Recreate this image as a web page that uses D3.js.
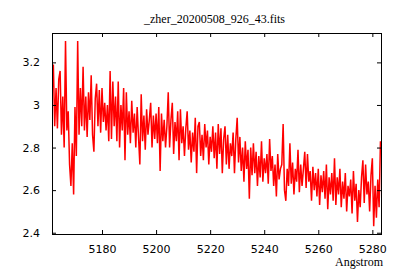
<!DOCTYPE html>
<html>
<head>
<meta charset="utf-8">
<script src="https://cdn.jsdelivr.net/npm/d3@7"></script>
<style>
  body { margin: 0; background: #fff; }
  svg { display: block; }
</style>
</head>
<body>
<div id="chart"></div>
<script>
// spectrum grid (like CRVAL1 / CDELT1 in the fits header)
var lambda0 = 5161.5;
var dLambda = 0.5;

// flux values
var flux = [
  3.05, 3.19, 2.90, 3.08, 2.89, 3.12, 3.16, 2.86, 3.04, 2.80,
  3.30, 2.88, 2.97, 2.72, 2.62, 2.82, 2.58, 2.99, 2.76, 3.30,
  2.86, 3.08, 2.90, 3.18, 2.88, 3.04, 2.85, 3.06, 2.93, 3.14,
  2.86, 2.78, 3.03, 3.10, 2.90, 3.07, 2.87, 3.08, 2.92, 3.01,
  2.88, 3.00, 2.83,
  3.16, 2.84, 3.11, 2.90, 3.04, 2.83, 3.11, 2.80, 3.00, 2.88,
  3.08, 2.74, 3.06, 2.86, 2.97, 2.82, 3.02, 2.87, 2.96, 2.80,
  2.99, 2.85, 2.72, 3.05, 2.83, 2.95, 2.79, 2.98, 2.86, 2.93,
  3.01, 2.80, 2.95, 2.84, 2.96, 2.82, 2.99, 2.69, 2.96, 2.83,
  2.93, 2.80, 2.90,
  3.06, 2.80, 2.93, 3.01, 2.77, 2.92, 2.83, 2.97, 2.74, 2.98,
  2.82, 2.90, 2.76, 2.89, 2.97, 2.79, 2.88, 2.73, 2.87, 2.78,
  2.94, 2.68, 2.90, 2.92, 2.76, 2.86, 2.74, 2.91, 2.80, 2.88,
  2.72, 2.85, 2.78, 2.90, 2.75, 2.87, 2.70, 2.91, 2.77, 2.89,
  2.68, 2.84,
  2.90, 2.72, 2.86, 2.70, 2.82, 2.76, 2.87, 2.68, 2.84, 2.94,
  2.73, 2.85, 2.69, 2.80, 2.64, 2.83, 2.70, 2.79, 2.56, 2.80,
  2.67, 2.82, 2.68, 2.78, 2.62, 2.76, 2.66, 2.83, 2.64, 2.75,
  2.68, 2.77, 2.63, 2.84, 2.69, 2.76, 2.62, 2.72, 2.57, 2.77,
  2.65, 2.70,
  2.72, 2.91, 2.60, 2.55, 2.70, 2.62, 2.82, 2.63, 2.73, 2.58,
  2.70, 2.64, 2.79, 2.59, 2.72, 2.62, 2.70, 2.78, 2.61, 2.77,
  2.64, 2.69, 2.55, 2.71, 2.60, 2.68, 2.57, 2.70, 2.53, 2.67,
  2.59, 2.69, 2.56, 2.72, 2.51, 2.66, 2.58, 2.68, 2.55,
  2.75, 2.53, 2.66, 2.58, 2.70, 2.52, 2.64, 2.56, 2.68, 2.50,
  2.62, 2.57, 2.65, 2.49, 2.69, 2.55, 2.63, 2.45, 2.60, 2.52,
  2.66, 2.74, 2.54, 2.72, 2.58, 2.64, 2.50, 2.67, 2.75, 2.43,
  2.62, 2.47, 2.65, 2.52, 2.83
];

var xTicks = [5180, 5200, 5220, 5240, 5260, 5280];
var yTicks = [2.4, 2.6, 2.8, 3.0, 3.2];

var title = "_zher_20200508_926_43.fits";
var xLabel = "Angstrom";

var W = 400, H = 280;
var margin = { top: 33, right: 19, bottom: 46, left: 52 },
    width = W - margin.left - margin.right,
    height = H - margin.top - margin.bottom;

var data = flux.map(function (f, i) {
    return { wl: lambda0 + i * dLambda, f: f };
});

var svg = d3.select("#chart")
    .append("svg")
    .attr("width", W)
    .attr("height", H);

var x = d3.scaleLinear().domain([5161.5, 5283.2]).range([0, width]);
var y = d3.scaleLinear().domain([2.394, 3.338]).range([height, 0]);

var g = svg.append("g")
    .attr("transform", "translate(" + margin.left + "," + margin.top + ")");

g.append("clipPath").attr("id", "clip")
    .append("rect").attr("width", width).attr("height", height);

// the spectrum
var line = d3.line()
    .x(function (d) { return x(d.wl); })
    .y(function (d) { return y(d.f); });

g.append("path")
    .datum(data)
    .attr("clip-path", "url(#clip)")
    .attr("fill", "none")
    .attr("stroke", "#ff0000")
    .attr("stroke-width", 1.5)
    .attr("stroke-linejoin", "miter")
    .attr("d", line);

// axes, ticks pointing inwards, mirrored on top and right
var tickFont = "'DejaVu Sans', sans-serif";

var xAxis = g.append("g")
    .attr("transform", "translate(0," + height + ")")
    .call(d3.axisBottom(x).tickValues(xTicks).tickSizeInner(-4).tickSizeOuter(0).tickPadding(11)
        .tickFormat(d3.format("d")));
var xTop = g.append("g")
    .call(d3.axisTop(x).tickValues(xTicks).tickSizeInner(-4).tickSizeOuter(0).tickFormat(""));
var yAxis = g.append("g")
    .call(d3.axisLeft(y).tickValues(yTicks).tickSizeInner(-4).tickSizeOuter(0).tickPadding(12)
        .tickFormat(function (d) { return String(+d.toFixed(1)); }));
var yRight = g.append("g")
    .attr("transform", "translate(" + width + ",0)")
    .call(d3.axisRight(y).tickValues(yTicks).tickSizeInner(-4).tickSizeOuter(0).tickFormat(""));

[xAxis, xTop, yAxis, yRight].forEach(function (a) {
    a.select(".domain").remove();
    a.selectAll("line").attr("stroke", "#000");
    a.selectAll("text")
        .attr("fill", "#000")
        .style("font-family", tickFont)
        .style("font-size", "11px");
});

// frame
g.append("rect")
    .attr("x", 0.5).attr("y", 0.5)
    .attr("width", width).attr("height", height)
    .attr("fill", "none")
    .attr("stroke", "#000")
    .attr("stroke-width", 1);

svg.append("text")
    .attr("x", margin.left + width / 2 - 2)
    .attr("y", 23)
    .attr("text-anchor", "middle")
    .style("font-family", "'Liberation Serif', serif")
    .style("font-size", "12px")
    .text(title);

svg.append("text")
    .attr("x", 383)
    .attr("y", 266)
    .attr("text-anchor", "end")
    .style("font-family", "'Liberation Serif', serif")
    .style("font-size", "12px")
    .text(xLabel);
</script>
</body>
</html>
